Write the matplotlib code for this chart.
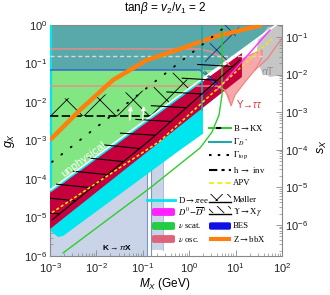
import numpy as np
import matplotlib
matplotlib.use("Agg")
import matplotlib.pyplot as plt
from matplotlib import patheffects
from matplotlib.patches import FancyBboxPatch, Rectangle
import matplotlib.ticker as mticker

plt.rcParams['font.family'] = ['Liberation Sans', 'DejaVu Sans']
plt.rcParams['mathtext.fontset'] = 'custom'
plt.rcParams['mathtext.rm'] = 'Liberation Sans'
plt.rcParams['mathtext.it'] = 'Liberation Sans:italic'
plt.rcParams['hatch.linewidth'] = 0.6

# ---------------- data (M_X in GeV, g_X) ----------------
kpix_M1 = [1e-3, 0.123]
kpix_M2 = [0.150, 0.272]
kpix_g = [1e-6, 1e-2]
kpix_g2 = [1.43e-6, 1e-2]

white_M = [1e-3, 74.3]
white_g = [5.18e-5, 1.0]

nuscat_M = [1e-3, 74.3, 1e-3]
nuscat_g = [5.18e-5, 1.0, 1.0]

top_M = [1e-3, 3.45, 74.3, 1e-3]
top_g = [0.0678, 0.0678, 1.0, 1.0]

aT_M = [30.4, 49.9, 100, 100, 55.1, 37.1, 27.5]
aT_g = [0.408, 0.887, 1.0, 0.0503, 0.0446, 0.0602, 0.123]

ytt_M = [2.19, 5.09, 6.86, 7.96, 9.70, 16.0, 26.2, 37.1, 37.1, 20.4, 12.4, 5.91, 2.19]
ytt_g = [0.0182, 0.0231, 0.0152, 7.87e-3, 0.0152, 0.0331, 0.0678, 0.139, 0.224, 0.166, 0.123, 0.0764, 0.0373]
ytt_edge_M = [26.2, 49.9, 78.0, 100]
ytt_edge_g = [0.0678, 0.139, 0.302, 0.45]

dpee_M = [1e-3, 1e-3, 1.16e-3, 1.49e-3, 1.91e-3, 0.634, 1.98, 1.98]
dpee_g = [5.18e-5, 4.73e-6, 3.95e-6, 3.12e-6, 3.31e-6, 5.66e-4, 1.5e-3, 0.0413]

nuosc_M = [1e-3, 13.7, 13.7, 1.71, 1e-3]
nuosc_g = [4.33e-5, 0.187, 0.0446, 6.19e-3, 5.02e-6]

moller_M = [1e-3, 0.143, 0.735, 1.04, 0.150, 1e-3]
moller_g = [0.0113, 0.0205, 0.0914, 0.0231, 4.33e-3, 4.33e-3]

navy_M = [1.98, 3.1, 12.4, 3.6, 2.19]
navy_g = [8.36e-3, 0.0113, 1.0, 1.0, 0.123]

lb_M = [16.0, 74.3, 82.0, 55.1, 20.4]
lb_g = [0.259, 1.0, 1.0, 0.741, 0.30]

zbb_M = [1e-3, 4.43e-3, 2.28e-2, 0.123, 0.634, 3.97, 20.4, 37.1]
zbb_g = [1.03e-3, 6.19e-3, 0.0373, 0.123, 0.238, 0.518, 0.836, 1.0]

pinkA_M = [1e-3, 1.7, 3.1, 5.5, 8.0]
pinkA_g = [0.238, 0.238, 0.2, 0.13, 0.08]
pinkB_M = [1e-3, 4.0, 6.0, 7.5]
pinkB_g = [0.026, 0.026, 0.02, 0.01]

grayd_M = [1e-3, 43.0]
grayd_g = [0.157, 0.157]

bes_M = [1e-3, 1.7, 2.6, 3.6]
bes_g = [0.0678, 0.0678, 0.045, 0.03]

bkx_M = [1.91e-3, 0.143, 1.71, 3.1, 4.39, 5.09, 5.09]
bkx_g = [1.2e-6, 5.84e-5, 6.38e-4, 1.66e-3, 4.59e-3, 0.0152, 1.0]

gds_M = [1.89, 1.89]
gds_g = [6.19e-3, 1.0]

mag_M = [3.97, 55.1]
mag_g = [0.0205, 0.741]

apv_M = [1.1e-3, 0.235, 64.0]
apv_g = [1.34e-5, 9.7e-4, 0.459]

yxg_M = [1.1e-3, 0.143, 12.4]
yxg_g = [8.6e-6, 1.03e-3, 0.123]

gtop_M = [1.1e-3, 5.9]
gtop_g = [2.77e-4, 0.887]

# ---------------- figure ----------------
fig = plt.figure(figsize=(3.30, 2.95), dpi=100)
ax = fig.add_axes([50/330, 1-256/295, 232/330, 231/295])
ax.set_xscale('log'); ax.set_yscale('log')
ax.set_xlim(1e-3, 1e2); ax.set_ylim(1e-6, 1)

lav = '#c9d4e8'
ax.fill_between(kpix_M1, kpix_g[0], kpix_g[1], color=lav, lw=0, zorder=1)
ax.fill_between(kpix_M2, kpix_g2[0], kpix_g2[1], color=lav, lw=0, zorder=1)
for m in [kpix_M1[1], kpix_M2[0]]:
    ax.plot([m, m], [1e-6, 1e-3], color='#7a93c8', lw=0.8, zorder=1.5)
ax.plot([kpix_M2[1]]*2, [1.43e-6, 1e-3], color='#9fb0d8', lw=0.6, zorder=1.5)

ax.fill(nuscat_M, nuscat_g, color='#82e682', lw=0, zorder=2)
ax.fill(top_M, top_g, color='#5aa9aa', lw=0, zorder=2.1)
ax.fill(aT_M, aT_g, color='#c6c6c6', lw=0, zorder=2.2)
ax.fill(ytt_M, ytt_g, facecolor='#f7a8a8', edgecolor='#f08080', lw=0.8, zorder=2.3)
ax.plot(ytt_edge_M, ytt_edge_g, color='#f08080', lw=0.9, zorder=2.35)
ax.fill(dpee_M, dpee_g, color='#00e6ef', lw=0, zorder=2.5)
ax.fill(nuosc_M, nuosc_g, color='#c5003d', lw=0, zorder=2.6)
ax.fill(lb_M, lb_g, color='#9cc6ee', lw=0, zorder=2.7)
ax.plot([1.05e-3, 1.05e-3], [5.5e-5, 1.0], color='#00e6ef', lw=1.6, zorder=2.8)

ax.plot(pinkA_M, pinkA_g, color='#f08a8a', lw=1.0, zorder=3)
ax.plot(pinkB_M, pinkB_g, color='#f08a8a', lw=1.0, zorder=3)
ax.plot(grayd_M, grayd_g, color='#d8d8d8', lw=1.0, ls=(0, (3, 2)), zorder=3)
ax.plot(bes_M, bes_g, color='#2f5fd0', lw=1.0, zorder=3)

ax.fill(moller_M, moller_g, facecolor='none', edgecolor='black', hatch='x', lw=0, zorder=3.5)
ax.plot([moller_M[0], moller_M[4]], [moller_g[5], moller_g[4]], color='black', lw=1.2,
        ls=(0, (5, 2)), zorder=3.6)
ax.fill(navy_M, navy_g, facecolor='none', edgecolor='#1c2f70', hatch='x', lw=0, zorder=3.5)

ax.plot(white_M, white_g, color='white', lw=1.2, zorder=4)
ax.plot(zbb_M, zbb_g, color='#ff7f0e', lw=3.2, solid_capstyle='butt', zorder=4.5)

ax.plot(bkx_M, bkx_g, color='#2fcc2f', lw=1.0, zorder=5)
ax.plot(gds_M, gds_g, color='#22a6a6', lw=1.2, zorder=5)
ax.plot(mag_M, mag_g, color='#ff33ff', lw=1.0, zorder=5)
ax.plot(yxg_M, yxg_g, color='black', lw=0.8, zorder=5,
        path_effects=[patheffects.withTickedStroke(angle=135, spacing=14, length=1.8)])
ax.plot(apv_M, apv_g, color='#f2ea00', lw=1.1, ls=(0, (2, 1.5)), zorder=5.1)
ax.plot(gtop_M, gtop_g, color='black', lw=1.3, ls=(0, (0.6, 6)), dash_capstyle='round', zorder=5)

# region labels
ax.text(5.4e-3, 3.2e-4, 'unphysical', color='white', fontsize=8, rotation=36,
        ha='center', va='center', rotation_mode='anchor', zorder=6)
ax.text(2.78e-2, 1.71e-6, r'K$\rightarrow\pi$X', fontsize=6, fontweight='bold',
        ha='center', va='center', zorder=6)
ax.text(19.4, 8.87e-3, r'$\Upsilon\!\rightarrow\!\tau\tau$', color='#e8303a', fontsize=7,
        ha='center', va='center', zorder=6)
ax.text(49.9, 0.0638, r'$\alpha$T', color='#8c8c8c', fontsize=7.5,
        ha='center', va='center', zorder=6)
for mx in [5.57e-2, 0.106]:
    ax.annotate('', xy=(mx, 9.4e-3), xytext=(mx*0.93, 2.9e-3),
                arrowprops=dict(arrowstyle='-|>', color='white', lw=1.0, mutation_scale=6), zorder=6)

# ---------------- axes styling ----------------
for s in ax.spines.values():
    s.set_color('#888888'); s.set_linewidth(0.8)
ax.tick_params(which='both', direction='in', top=True, right=False, colors='#888888',
               labelcolor='#222222', labelsize=8)
ax.tick_params(which='major', length=4, width=0.6)
ax.tick_params(which='minor', length=2, width=0.5)
ax.tick_params(axis='x', pad=4)
ax.tick_params(axis='y', pad=2)
ax.xaxis.set_major_locator(mticker.FixedLocator([1e-3, 1e-2, 1e-1, 1, 10, 100]))
ax.xaxis.set_minor_locator(mticker.LogLocator(base=10, subs=np.arange(2, 10), numticks=20))
ax.yaxis.set_major_locator(mticker.FixedLocator([1e-6, 1e-5, 1e-4, 1e-3, 1e-2, 1e-1, 1]))
ax.yaxis.set_minor_locator(mticker.LogLocator(base=10, subs=np.arange(2, 10), numticks=20))
ax.xaxis.set_major_formatter(mticker.LogFormatterSciNotation())
ax.yaxis.set_major_formatter(mticker.LogFormatterSciNotation())
ax.xaxis.set_minor_formatter(mticker.NullFormatter())
ax.yaxis.set_minor_formatter(mticker.NullFormatter())

ax2 = ax.twinx()
ax2.set_yscale('log')
ax2.set_ylim(10**-6.83, 10**-0.68)
for s in ax2.spines.values():
    s.set_visible(False)
ax2.tick_params(axis='x', which='both', bottom=False, top=False, labelbottom=False, labeltop=False)
ax2.tick_params(axis='y', which='both', direction='in', colors='#888888', labelcolor='#222222',
                labelsize=8, pad=2)
ax2.tick_params(axis='y', which='major', length=4, width=0.6)
ax2.tick_params(axis='y', which='minor', length=2, width=0.5)
ax2.yaxis.set_major_locator(mticker.FixedLocator([1e-6, 1e-5, 1e-4, 1e-3, 1e-2, 1e-1]))
ax2.yaxis.set_major_formatter(mticker.LogFormatterSciNotation())
ax2.yaxis.set_minor_locator(mticker.LogLocator(base=10, subs=np.arange(2, 10), numticks=20))
ax2.yaxis.set_minor_formatter(mticker.NullFormatter())

fig.text(165/330, 1-8/295, r'tan$\beta$ = $v_2/v_1$ = 2', ha='center', va='center', fontsize=8.5)
fig.text(10/330, 1-140/295, r'$g_X$', rotation=90, ha='center', va='center', fontsize=9)
fig.text(322/330, 1-147/295, r'$s_X$', rotation=90, ha='center', va='center', fontsize=9)
fig.text(165/330, 1-284/295, r'$M_X$ (GeV)', ha='center', va='center', fontsize=8.5)

# ---------------- legend (axes fraction) ----------------
def axx(px): return (px - 50) / 232
def axy(py): return (256 - py) / 231

serif = ['Liberation Serif', 'DejaVu Serif']
lfs = 6.3
T = ax.transAxes
col1_rows = [128, 142, 155, 170, 183, 200, 212, 226, 239]
col1_labels = [r'B$\rightarrow$KX', r'$\Gamma_{D^*}$', r'$\Gamma_{\rm top}$', r'h $\rightarrow$ inv', 'APV',
               'Møller', r'$\Upsilon\rightarrow$X$\gamma$', 'BES', r'Z$\rightarrow$bbX']
x0, x1, xt = axx(209), axx(231), axx(233)
for py, lab in zip(col1_rows, col1_labels):
    ax.text(xt, axy(py), lab, transform=T, fontsize=lfs, family=serif, va='center', ha='left', zorder=7,
            math_fontfamily='stix')
y = axy(128)
ax.plot([x0, x1], [y, y], transform=T, color='#2fcc2f', lw=1.5, zorder=7)
ax.plot([x0 + 0.03, x1 - 0.03], [y, y], transform=T, color='black', lw=1.5, ls=(0, (2.5, 2)), zorder=7.1)
y = axy(142)
ax.plot([x0, x1], [y, y], transform=T, color='#22a6a6', lw=1.5, zorder=7)
y = axy(155)
ax.plot([x0, x1], [y, y], transform=T, color='black', lw=1.5, ls=(0, (1.2, 3)), zorder=7)
y = axy(170)
ax.plot([x0, x1], [y, y], transform=T, color='black', lw=1.5, ls=(0, (4, 2, 1.5, 2)), zorder=7)
y = axy(183)
ax.plot([x0, x1], [y, y], transform=T, color='#f2ea00', lw=1.2, ls=(0, (3, 2)), zorder=7)
y = axy(200)
ax.add_patch(Rectangle((x0, y - 0.005), x1 - x0, 0.03, transform=T, facecolor='none',
                       edgecolor='black', hatch='xx', lw=0, zorder=7))
ax.plot([x0, x1], [y - 0.008, y - 0.008], transform=T, color='black', lw=1.0, zorder=7)
y = axy(212)
ax.add_patch(Rectangle((x0, y - 0.005), x1 - x0, 0.03, transform=T, facecolor='none',
                       edgecolor='black', hatch='\\\\\\', lw=0, zorder=7))
ax.plot([x0, x1], [y - 0.008, y - 0.008], transform=T, color='black', lw=1.0, zorder=7)
y = axy(226)
ax.add_patch(FancyBboxPatch((x0, y - 0.016), x1 - x0, 0.032, boxstyle='round,pad=0,rounding_size=0.008',
                            transform=T, facecolor='#1010e6', lw=0, zorder=7))
y = axy(239)
ax.plot([x0, x1], [y, y], transform=T, color='#ff7f0e', lw=3, solid_capstyle='butt', zorder=7)

col2_rows = [200, 212, 226, 239]
col2_labels = [r'D$\rightarrow\pi$ee', r'$D^0\!-\!\overline{D}^0$', r'$\nu$ scat.', r'$\nu$ osc.']
c0, c1, ct = axx(152), axx(175), axx(178)
for py, lab in zip(col2_rows, col2_labels):
    ax.text(ct, axy(py), lab, transform=T, fontsize=lfs, family=serif, va='center', ha='left', zorder=7,
            math_fontfamily='stix')
y = axy(200)
ax.plot([c0 - 0.02, c1], [y, y], transform=T, color='#00e6ef', lw=2, zorder=7)
for py, colr in zip([212, 226, 239], ['#ff22ff', '#22cc44', '#e0637c']):
    y = axy(py)
    ax.add_patch(FancyBboxPatch((c0, y - 0.017), c1 - c0, 0.034, boxstyle='round,pad=0,rounding_size=0.008',
                                transform=T, facecolor=colr, lw=0, zorder=7))

fig.savefig('out.png', dpi=100)
